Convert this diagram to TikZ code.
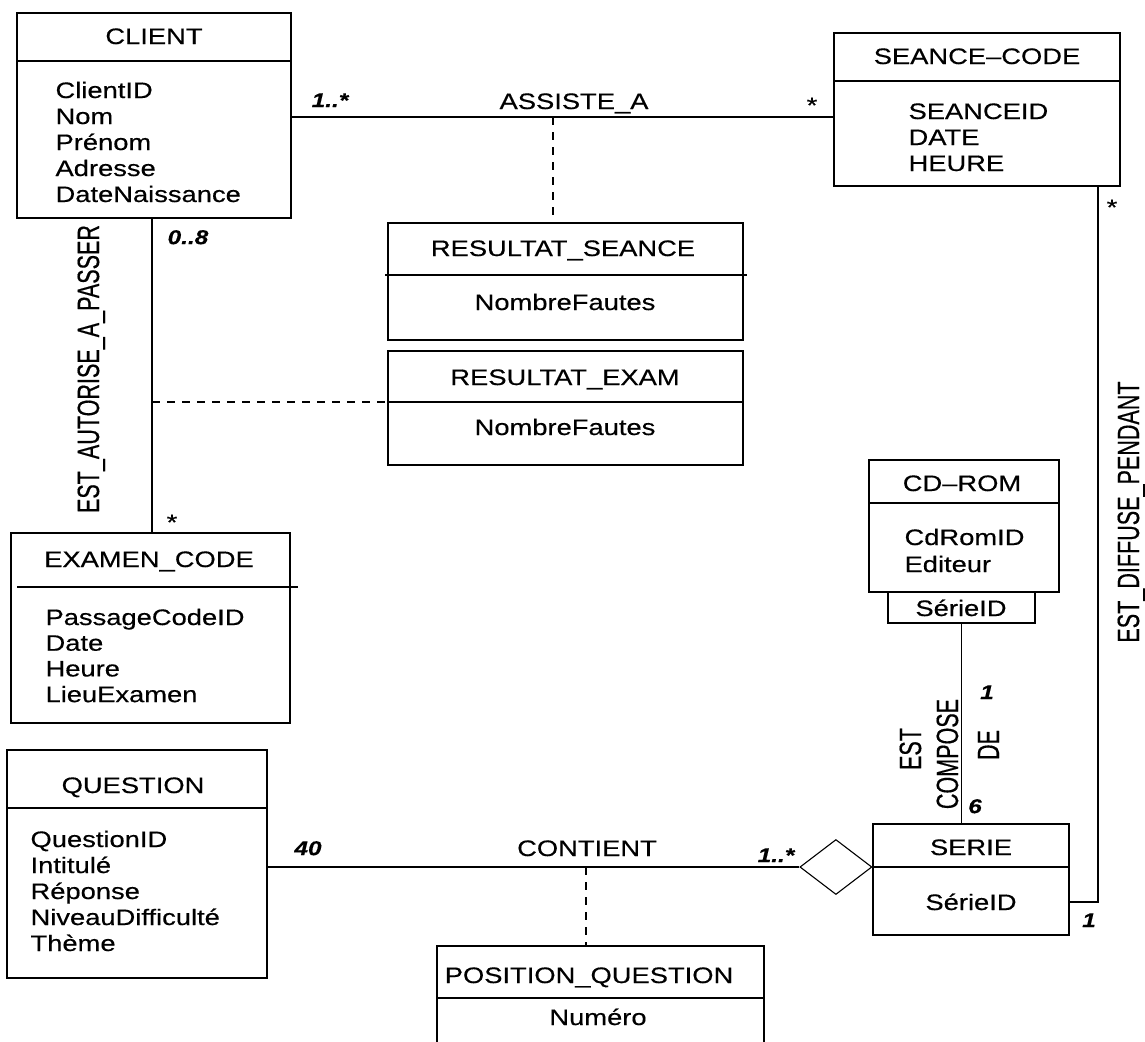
\documentclass[tikz,border=0pt]{standalone}
\usepackage{fontspec}
\setmainfont[FakeStretch=1.22,FakeBold=0.4]{Liberation Sans}
\newfontfamily\rotfont[FakeStretch=0.7,FakeBold=0.4]{Liberation Sans}
\usetikzlibrary{shapes.geometric,fit}

\begin{document}
\begin{tikzpicture}[x=0.5pt,y=-0.5pt,line width=0.55pt,
    box/.style={draw, inner sep=0pt},
    ttl/.style={font=\fontsize{11.2}{13}\selectfont, inner sep=0pt, text height=8pt, text depth=0pt},
    attr/.style={ttl, anchor=west},
    mult/.style={font=\fontsize{10}{12}\selectfont\bfseries\itshape, inner sep=0pt, text height=7.1pt, text depth=0pt},
    rel/.style={font=\rotfont\fontsize{15.4}{18}\selectfont, rotate=90, inner sep=0pt, text height=11pt, text depth=0pt},
    link/.style={dash pattern=on 4pt off 3.5pt}]
    \useasboundingbox (0,0) rectangle (1145,1041);
    \clip (0,0) rectangle (1145,1041);

    \node[box, fit={(17,13) (291,218)}] (client) {};
    \node[box, fit={(834,33) (1120,186)}] (seance) {};
    \node[box, fit={(388,223) (743,340)}] (resseance) {};
    \node[box, fit={(388,351) (743,465)}] (resexam) {};
    \node[box, fit={(11,533) (290,723)}] (examen) {};
    \node[box, fit={(7,750) (267,978)}] (question) {};
    \node[box, fit={(869,460) (1059,592)}] (cdrom) {};
    \node[box, fit={(888,592) (1035,623)}] (cdserie) {};
    \node[box, fit={(873,824) (1069,935)}] (serie) {};
    \node[box, fit={(437,946) (764,1070)}] (posquestion) {};
    \node[box, diamond, minimum width=36pt, minimum height=27.5pt, anchor=east] (losange) at (serie.west |- 0,867) {};

    \foreach \n/\y in {client/61, seance/81, resexam/402, question/808, cdrom/503, serie/867, posquestion/998}
      \draw (\n.west |- 0,\y) -- (\n.east |- 0,\y);
    \draw (385,275) -- (747,275);
    \draw (17,587) -- (298,587);

    \node[ttl] (clientT) at (154,36) {CLIENT};
    \node[ttl] (seanceT) at (977,56) {SEANCE–CODE};
    \node[ttl] (resseanceT) at (563,248) {RESULTAT\_SEANCE};
    \node[ttl] (resseanceA) at (565,302) {NombreFautes};
    \node[ttl] (resexamT) at (565,377) {RESULTAT\_EXAM};
    \node[ttl] (resexamA) at (565,427) {NombreFautes};
    \node[ttl] (examenT) at (149,559) {EXAMEN\_CODE};
    \node[ttl] (questionT) at (133,785) {QUESTION};
    \node[ttl] (cdromT) at (962,483) {CD–ROM};
    \node[ttl] (cdserieA) at (961,608) {SérieID};
    \node[ttl] (serieT) at (971,847) {SERIE};
    \node[ttl] (serieA) at (971,902) {SérieID};
    \node[ttl] (posquestionT) at (589,975) {POSITION\_QUESTION};
    \node[ttl] (posquestionA) at (598,1017) {Numéro};

    \foreach \t [count=\i from 0] in {ClientID,Nom,Prénom,Adresse,DateNaissance}
      \node[attr] (clientA\i) at (55,{90+26*\i}) {\t};
    \foreach \t [count=\i from 0] in {SEANCEID,DATE,HEURE}
      \node[attr] (seanceA\i) at (908,{111+26*\i}) {\t};
    \foreach \t [count=\i from 0] in {PassageCodeID,Date,Heure,LieuExamen}
      \node[attr] (examenA\i) at (45,{617+25.7*\i}) {\t};
    \foreach \t [count=\i from 0] in {QuestionID,Intitulé,Réponse,NiveauDifficulté,Thème}
      \node[attr] (questionA\i) at (30,{839+26*\i}) {\t};
    \foreach \t [count=\i from 0] in {CdRomID,Editeur}
      \node[attr] (cdromA\i) at (904,{537+27*\i}) {\t};

    \coordinate (assiste) at (553,117);
    \coordinate (autorise) at (152,402);
    \coordinate (diffuse) at (1098,902);
    \coordinate (contient) at (586,867);

    \path (client.east |- assiste) edge (seance.west |- assiste)
      (client.south -| autorise) edge (examen.north -| autorise)
      (cdserie.south) edge (serie.north -| cdserie.south)
      (question.east |- contient) edge (losange.west);
    \draw (seance.south -| diffuse) -- (diffuse) -- (serie.east |- diffuse);
    \path[link] (assiste) edge (resseance.north -| assiste)
      (autorise) edge (resexam.west |- autorise)
      (contient) edge (posquestion.north -| contient);

    \node[ttl] (assisteL) at (574,101) {ASSISTE\_A};
    \node[ttl] (contientL) at (587,848) {CONTIENT};
    \node[rel] (autoriseL) at (88,369) {EST\_AUTORISE\_A\_PASSER};
    \node[rel] (diffuseL) at (1128,512) {EST\_DIFFUSE\_PENDANT};
    \node[rel] (composeA) at (910,749) {EST};
    \node[rel] (composeB) at (947,754) {COMPOSE};
    \node[rel] (composeC) at (988,745) {DE};

    \node[mult] (assisteM1) at (330,100) {1..*};
    \node[ttl] (assisteM2) at (812,105) {*};
    \node[mult] (autoriseM1) at (188,237) {0..8};
    \node[ttl] (autoriseM2) at (172,522) {*};
    \node[ttl] (diffuseM1) at (1112,207) {*};
    \node[mult] (diffuseM2) at (1089,920) {1};
    \node[mult] (composeM1) at (987,692) {1};
    \node[mult] (composeM2) at (975,806) {6};
    \node[mult] (contientM1) at (308,848) {40};
    \node[mult] (contientM2) at (776,855) {1..*};
\end{tikzpicture}
\end{document}
